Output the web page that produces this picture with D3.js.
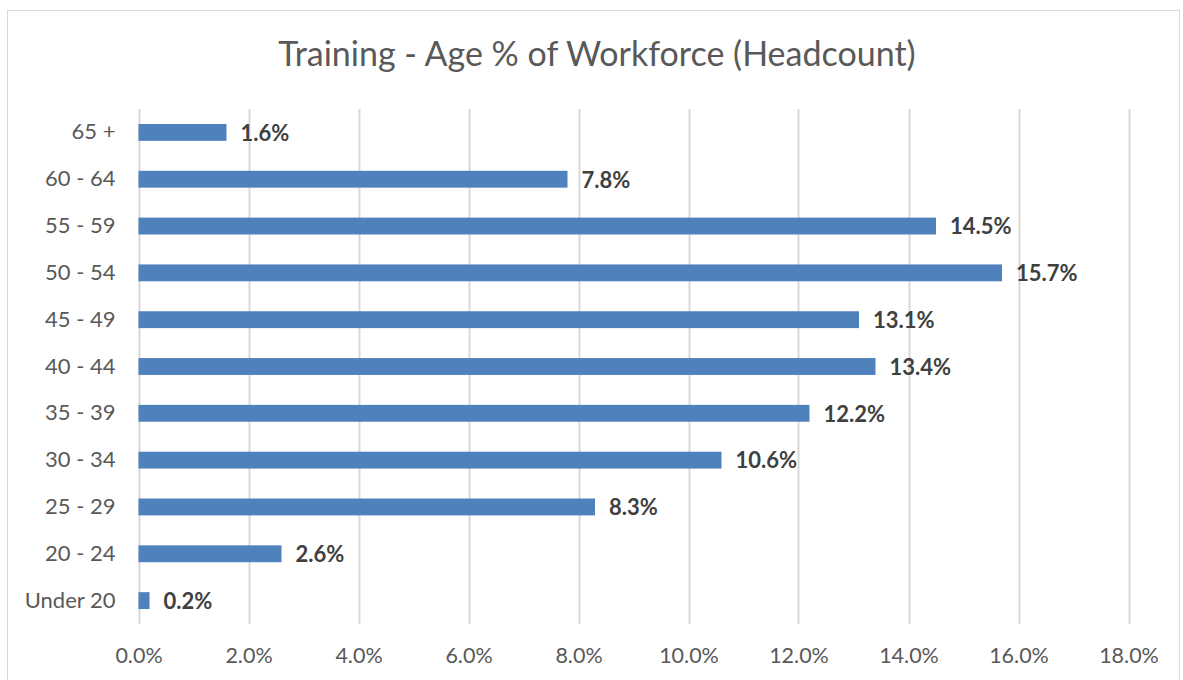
<!DOCTYPE html>
<html>
<head>
<meta charset="utf-8">
<script src="https://cdn.jsdelivr.net/npm/d3@7"></script>
<style>
  body { margin: 0; background: #fff; }
  svg { display: block; font-family: Lato, "Open Sans", sans-serif; }
</style>
</head>
<body>
<svg width="1183" height="680"></svg>
<script>
// age bands, top to bottom as drawn
var categories = ["65 +", "60 - 64", "55 - 59", "50 - 54", "45 - 49", "40 - 44", "35 - 39", "30 - 34", "25 - 29", "20 - 24", "Under 20"];
var values = [1.6, 7.8, 14.5, 15.7, 13.1, 13.4, 12.2, 10.6, 8.3, 2.6, 0.2];
var tickValues = [0, 2, 4, 6, 8, 10, 12, 14, 16, 18];

var svg = d3.select("svg"),
    width = +svg.attr("width"),
    height = +svg.attr("height");

var margin = { left: 138.5, right: 54.5, top: 109, bottom: 56 };

// chart frame
svg.append("rect")
    .attr("x", 7.5).attr("y", 10.5)
    .attr("width", 1172).attr("height", 680)
    .style("fill", "#fff")
    .style("stroke", "#d9d9d9");

svg.append("text")
    .attr("x", 597).attr("y", 66)
    .attr("text-anchor", "middle")
    .attr("font-size", "34px")
    .attr("fill", "#595959")
    .text("Training - Age % of Workforce (Headcount)");

var x = d3.scaleLinear().domain([0, 18]).range([margin.left, width - margin.right]);
var y = d3.scaleBand().domain(categories).range([margin.top, height - margin.bottom]).paddingInner(0.64).paddingOuter(0.32);

var g = svg.append("g");

// vertical gridlines
g.selectAll(".grid")
    .data(tickValues)
    .enter().append("line")
    .attr("class", "grid")
    .attr("x1", function(d) { return Math.round(x(d)) + 0.5; })
    .attr("x2", function(d) { return Math.round(x(d)) + 0.5; })
    .attr("y1", margin.top)
    .attr("y2", height - margin.bottom)
    .style("stroke", "#d9d9d9")
    .style("stroke-width", 2);

// x axis labels
var xAxis = d3.axisBottom(x)
    .tickValues(tickValues)
    .tickSize(0)
    .tickPadding(24)
    .tickFormat(function(d) { return d.toFixed(1) + "%"; });

var ax = svg.append("g")
    .attr("transform", "translate(0," + (height - margin.bottom) + ")")
    .call(xAxis);
ax.select(".domain").remove();
ax.selectAll("text")
    .attr("font-size", "21.5px")
    .attr("font-family", "Lato, sans-serif")
    .attr("fill", "#595959");

// y axis labels
var yAxis = d3.axisLeft(y).tickSize(0).tickPadding(23);
var ay = svg.append("g")
    .attr("transform", "translate(" + margin.left + ",0)")
    .call(yAxis);
ay.select(".domain").remove();
ay.selectAll("text")
    .attr("font-size", "22px")
    .attr("font-family", "Lato, sans-serif")
    .attr("fill", "#595959");

// bars
g.selectAll(".bar")
    .data(values)
    .enter().append("rect")
    .attr("class", "bar")
    .attr("x", x(0))
    .attr("y", function(d, i) { return y(categories[i]); })
    .attr("width", function(d) { return x(d) - x(0); })
    .attr("height", y.bandwidth())
    .style("fill", "#4f81bd");

// value labels
g.selectAll(".label")
    .data(values)
    .enter().append("text")
    .attr("class", "label")
    .attr("x", function(d) { return x(d) + 14; })
    .attr("y", function(d, i) { return y(categories[i]) + y.bandwidth() / 2; })
    .attr("dy", "0.38em")
    .attr("font-size", "22px")
    .attr("font-weight", "bold")
    .attr("fill", "#404040")
    .text(function(d) { return d.toFixed(1) + "%"; });
</script>
</body>
</html>
